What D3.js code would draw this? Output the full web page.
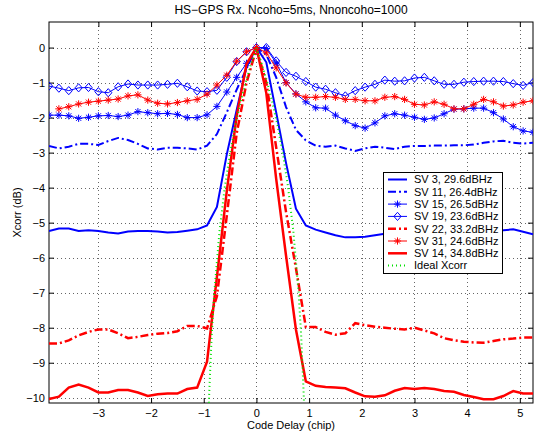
<!DOCTYPE html>
<html>
<head>
<meta charset="utf-8">
<style type="text/css">
	body { margin:0; background:#fff; }
	text { font-family: "Liberation Sans", Arial, Helvetica, sans-serif; fill:#000; }
</style>
<title></title>
</head>
<body>
<div id="chart"></div>
<script src="https://d3js.org/d3.v7.min.js"></script>
<script type="text/javascript">
	// code delay (chip) of each sample
	var delay = [-3.9375, -3.75, -3.5625, -3.375, -3.1875, -3, -2.8125, -2.625, -2.4375, -2.25,
		-2.0625, -1.875, -1.6875, -1.5, -1.3125, -1.125, -0.9375, -0.75, -0.5625, -0.375,
		-0.1875, 0, 0.1875, 0.375, 0.5625, 0.75, 0.9375, 1.125, 1.3125, 1.5,
		1.6875, 1.875, 2.0625, 2.25, 2.4375, 2.625, 2.8125, 3, 3.1875, 3.375,
		3.5625, 3.75, 3.9375, 4.125, 4.3125, 4.5, 4.6875, 4.875, 5.0625, 5.25];

	// xcorr in dB per satellite
	var sv3 = [-5.24, -5.17, -5.17, -5.24, -5.22, -5.24, -5.28, -5.31, -5.25, -5.24,
		-5.24, -5.25, -5.28, -5.27, -5.23, -5.19, -5.08, -4.55, -3.05, -1.78,
		-0.55, 0, -0.42, -1.85, -3.3, -4.6, -5.08, -5.2, -5.28, -5.36,
		-5.42, -5.42, -5.40, -5.36, -5.32, -5.31, -5.31, -5.31, -5.31, -5.30,
		-5.29, -5.29, -5.30, -5.30, -5.28, -5.26, -5.22, -5.19, -5.26, -5.33];
	var sv11 = [-2.81, -2.88, -2.83, -2.75, -2.75, -2.78, -2.67, -2.58, -2.64, -2.75,
		-2.88, -2.91, -2.86, -2.86, -2.88, -2.91, -2.80, -2.47, -1.85, -1.2,
		-0.6, 0, -0.2, -0.85, -1.7, -2.35, -2.65, -2.80, -2.83, -2.80,
		-2.88, -2.95, -2.88, -2.83, -2.86, -2.90, -2.83, -2.81, -2.81, -2.80,
		-2.80, -2.79, -2.79, -2.77, -2.72, -2.68, -2.66, -2.72, -2.74, -2.72];
	var sv15 = [-1.93, -1.93, -1.95, -2.02, -1.99, -1.95, -1.94, -1.97, -1.93, -1.83,
		-1.86, -1.89, -1.88, -1.91, -2.00, -2.00, -1.92, -1.68, -1.27, -0.85,
		-0.45, 0, -0.03, -0.44, -1.0, -1.32, -1.55, -1.72, -1.73, -1.93,
		-2.09, -2.23, -2.30, -2.15, -1.95, -1.89, -1.93, -1.99, -2.05, -2.01,
		-1.89, -1.76, -1.75, -1.73, -1.73, -1.86, -2.04, -2.26, -2.38, -2.42];
	var sv19 = [-1.10, -1.16, -1.23, -1.15, -1.14, -1.26, -1.29, -1.12, -1.04, -1.07,
		-1.07, -1.07, -1.05, -1.02, -1.12, -1.24, -1.26, -1.22, -0.85, -0.4,
		-0.12, 0, 0, -0.38, -0.71, -0.82, -0.97, -1.13, -1.19, -1.29,
		-1.38, -1.23, -1.13, -1.05, -0.93, -0.96, -0.95, -0.87, -0.85, -0.95,
		-1.05, -1.05, -0.99, -0.97, -0.96, -0.96, -0.97, -1.03, -1.08, -1.0];
	var sv22 = [-8.45, -8.45, -8.36, -8.22, -8.12, -8.05, -8.05, -8.16, -8.30, -8.26,
		-8.21, -8.17, -8.15, -8.10, -7.95, -7.95, -8.02, -7.1, -4.8, -2.45,
		-1.0, -0.03, -1.0, -2.85, -4.7, -6.3, -7.98, -7.98, -8.12, -8.20,
		-8.16, -7.87, -7.93, -7.97, -8.00, -8.03, -8.05, -8.0, -8.08, -8.16,
		-8.30, -8.36, -8.40, -8.42, -8.43, -8.38, -8.33, -8.31, -8.28, -8.28];
	var sv31 = [null, -1.75, -1.69, -1.61, -1.56, -1.53, -1.50, -1.47, -1.38, -1.35,
		-1.50, -1.59, -1.61, -1.57, -1.52, -1.48, -1.33, -1.07, -0.79, -0.39,
		-0.12, 0, -0.15, -0.58, -1.01, -1.33, -1.42, -1.42, -1.40, -1.42,
		-1.48, -1.48, -1.52, -1.52, -1.42, -1.40, -1.48, -1.62, -1.64, -1.55,
		-1.62, -1.75, -1.75, -1.62, -1.48, -1.55, -1.67, -1.64, -1.56, -1.52];
	var sv14 = [-10.04, -9.97, -9.71, -9.62, -9.71, -9.85, -9.85, -9.78, -9.78, -9.85,
		-9.95, -9.90, -9.88, -9.88, -9.75, -9.71, -8.97, -6.55, -4.1, -1.95,
		-0.47, 0, -1.3, -3.75, -5.95, -8.05, -9.53, -9.66, -9.69, -9.71,
		-9.73, -9.85, -9.96, -9.97, -9.93, -9.80, -9.72, -9.75, -9.72, -9.75,
		-9.81, -9.83, -9.92, -9.98, -10.04, -10.04, -9.95, -9.81, -9.88, -9.88];

	// ideal triangle correlation in dB
	var idealDelay = [-0.95, -0.9, -0.85, -0.8, -0.7, -0.6, -0.5, -0.4, -0.3, -0.2, -0.1, 0,
		0.1, 0.2, 0.3, 0.4, 0.5, 0.6, 0.7, 0.8, 0.85, 0.9, 0.95];
	var idealDb = [-13.0, -10.0, -8.24, -6.99, -5.23, -3.98, -3.01, -2.22, -1.55, -0.97, -0.46, 0,
		-0.46, -0.97, -1.55, -2.22, -3.01, -3.98, -5.23, -6.99, -8.24, -10.0, -13.0];

	var legendLabels = ["SV 3, 29.6dBHz", "SV 11, 26.4dBHz", "SV 15, 26.5dBHz", "SV 19, 23.6dBHz",
		"SV 22, 33.2dBHz", "SV 31, 24.6dBHz", "SV 14, 34.8dBHz", "Ideal Xcorr"];
	var xTicks = [-3, -2, -1, 0, 1, 2, 3, 4, 5];
	var yTicks = [0, -1, -2, -3, -4, -5, -6, -7, -8, -9, -10];

	var margin = {top:22, right:3, bottom:32, left:49},
		width = 536 - margin.left - margin.right,
		height = 435 - margin.top - margin.bottom;

	var x = d3.scaleLinear().domain([-3.9375, 5.25]).range([0, width]);
	var y = d3.scaleLinear().domain([-10.15, 0.73]).range([height, 0]);

	var blue = "#0000ff", red = "#ff0000", green = "#00e000";

	// style of every trace, same order as legendLabels
	var series = [
		{vals: sv3, color: blue, w: 2, dash: null, marker: null},
		{vals: sv11, color: blue, w: 2, dash: "8,3,2,3", marker: null},
		{vals: sv15, color: blue, w: 1, dash: null, marker: "star"},
		{vals: sv19, color: blue, w: 1, dash: null, marker: "diamond"},
		{vals: sv22, color: red, w: 2.5, dash: "8,3,2,3", marker: null},
		{vals: sv31, color: red, w: 1, dash: null, marker: "star"},
		{vals: sv14, color: red, w: 2.5, dash: null, marker: null}
	];

	var svg = d3.select("#chart").append("svg")
		.attr("width", 536)
		.attr("height", 435);

	var g = svg.append("g")
		.attr("transform", "translate(" + margin.left + "," + margin.top + ")");

	g.append("clipPath").attr("id", "clip")
		.append("rect").attr("width", width).attr("height", height);

	//grid
	g.selectAll(".gx").data(xTicks).enter().append("line")
		.attr("x1", function(d){return Math.round(x(d)) + 0.5;})
		.attr("x2", function(d){return Math.round(x(d)) + 0.5;})
		.attr("y1", 0).attr("y2", height)
		.style("stroke", "#666").style("stroke-dasharray", "1,3");
	g.selectAll(".gy").data(yTicks).enter().append("line")
		.attr("y1", function(d){return Math.round(y(d)) + 0.5;})
		.attr("y2", function(d){return Math.round(y(d)) + 0.5;})
		.attr("x1", 0).attr("x2", width)
		.style("stroke", "#666").style("stroke-dasharray", "1,3");

	//axes, ticks pointing in
	g.append("g")
		.attr("transform", "translate(0," + height + ")")
		.call(d3.axisBottom(x).tickValues(xTicks).tickSize(-5).tickPadding(6));
	g.append("g")
		.call(d3.axisTop(x).tickValues(xTicks).tickSize(-5).tickFormat(""));
	g.append("g")
		.call(d3.axisLeft(y).tickValues(yTicks).tickSize(-5).tickPadding(4));
	g.append("g")
		.attr("transform", "translate(" + width + ",0)")
		.call(d3.axisRight(y).tickValues(yTicks).tickSize(-5).tickFormat(""));
	g.selectAll(".domain").remove();
	g.selectAll(".tick text").style("font-size", "11px").style("font-family", "'Liberation Sans', Arial, sans-serif");

	g.append("rect")
		.attr("x", 0).attr("y", 0)
		.attr("width", width).attr("height", height)
		.style("fill", "none").style("stroke", "#000").style("stroke-width", 1);

	var line = d3.line()
		.defined(function(d){return d[1] !== null;})
		.x(function(d){return x(d[0]);})
		.y(function(d){return y(d[1]);});

	function markerPath(type, r){
		if(type == "star"){
			var a = r * 0.72;
			return "M" + (-r) + ",0H" + r + "M0," + (-r) + "V" + r +
				"M" + (-a) + "," + (-a) + "L" + a + "," + a +
				"M" + (-a) + "," + a + "L" + a + "," + (-a);
		}
		return "M0," + (-r - 0.5) + "L" + r + ",0L0," + (r + 0.5) + "L" + (-r) + ",0Z";
	}

	var plot = g.append("g").attr("clip-path", "url(#clip)");

	series.forEach(function(s){
		var pts = delay.map(function(d, i){return [d, s.vals[i]];});
		plot.append("path")
			.datum(pts)
			.attr("d", line)
			.style("fill", "none")
			.style("stroke", s.color)
			.style("stroke-width", s.w)
			.style("stroke-dasharray", s.dash);
		if(s.marker){
			plot.selectAll(null)
				.data(pts.filter(function(p){return p[1] !== null;}))
				.enter().append("path")
				.attr("transform", function(p){return "translate(" + x(p[0]) + "," + y(p[1]) + ")";})
				.attr("d", markerPath(s.marker, 3.6))
				.style("fill", "none")
				.style("stroke", s.color)
				.style("stroke-width", 1);
		}
	});

	//ideal
	plot.append("path")
		.datum(idealDelay.map(function(d, i){return [d, idealDb[i]];}))
		.attr("d", line)
		.style("fill", "none")
		.style("stroke", green)
		.style("stroke-width", 2)
		.style("stroke-dasharray", "1,3");

	//labels
	svg.append("text")
		.attr("x", margin.left + width / 2).attr("y", 14)
		.attr("text-anchor", "middle")
		.style("font-size", "12px")
		.text("HS\u2212GPS Rx. Ncoho=5ms, Nnoncoho=1000");
	svg.append("text")
		.attr("x", margin.left + width / 2).attr("y", 429)
		.attr("text-anchor", "middle")
		.style("font-size", "11px")
		.text("Code Delay (chip)");
	svg.append("text")
		.attr("transform", "translate(21," + (margin.top + height / 2) + ") rotate(-90)")
		.attr("text-anchor", "middle")
		.style("font-size", "11px")
		.text("Xcorr (dB)");

	//legend
	var lg = svg.append("g").attr("transform", "translate(383,172)");
	lg.append("rect")
		.attr("x", 0.5).attr("y", 0.5)
		.attr("width", 119).attr("height", 101)
		.style("fill", "#fff").style("stroke", "#000").style("stroke-width", 1);

	var legendStyle = series.concat([{color: green, w: 2, dash: "1,3", marker: null}]);
	var item = lg.selectAll(".legend")
		.data(legendLabels)
		.enter().append("g")
		.attr("class", "legend")
		.attr("transform", function(d, i){return "translate(0," + (7.5 + i * 12.3) + ")";});

	item.append("line")
		.attr("x1", 5).attr("x2", 24)
		.style("stroke", function(d, i){return legendStyle[i].color;})
		.style("stroke-width", function(d, i){return legendStyle[i].w;})
		.style("stroke-dasharray", function(d, i){return legendStyle[i].dash;});

	item.filter(function(d, i){return legendStyle[i].marker;})
		.append("path")
		.attr("transform", "translate(14.5,0)")
		.attr("d", function(d){return markerPath(legendStyle[legendLabels.indexOf(d)].marker, 3.6);})
		.style("fill", "none")
		.style("stroke", function(d){return legendStyle[legendLabels.indexOf(d)].color;});

	item.append("text")
		.attr("x", 31).attr("dy", "0.35em")
		.style("font-size", "11px")
		.text(function(d){return d;});
</script>
</body>
</html>
